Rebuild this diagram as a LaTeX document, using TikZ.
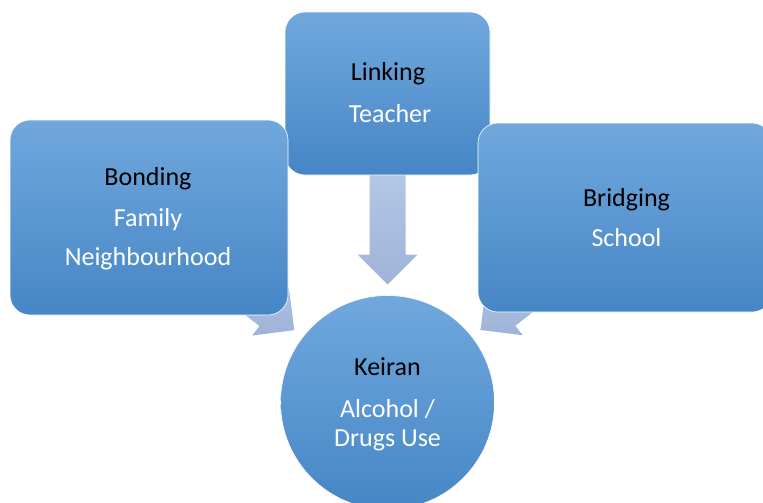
\documentclass[tikz,border=0pt]{standalone}
\usepackage{fontspec}
\setmainfont{Carlito}
\usetikzlibrary{calc,backgrounds}
\definecolor{boxtop}{HTML}{70A8DD}
\definecolor{boxbot}{HTML}{4686C6}
\definecolor{arrtop}{HTML}{C2D6F1}
\definecolor{arrbot}{HTML}{9EB3D7}
\newcommand{\myblockarrow}[2]{%
  \coordinate (tip) at ($(#2)!118pt!(#1)$);
  \coordinate (hb) at ($(tip)!30pt!(#1)$);
  \shade[arrowstyle] (tip) -- ($(hb)!30pt!90:(tip)$) -- ($(hb)!18pt!90:(tip)$)
    -- ($(#1)!18pt!90:(#2)$) -- ($(#1)!18pt!-90:(#2)$)
    -- ($(hb)!18pt!-90:(tip)$) -- ($(hb)!30pt!-90:(tip)$) -- cycle;}
\begin{document}
\begin{tikzpicture}[x=1pt,y=-1pt,
  boxstyle/.style={rectangle, rounded corners=20pt, top color=boxtop, bottom color=boxbot,
    draw=white, line width=0.6pt, inner sep=0pt},
  circstyle/.style={circle, top color=boxtop, bottom color=boxbot, draw=white,
    line width=0.6pt, inner sep=0pt, minimum size=214pt},
  titletext/.style={anchor=base, font=\fontsize{26}{30}\selectfont, text=black, inner sep=0pt},
  bodytext/.style={anchor=base, font=\fontsize{26}{30}\selectfont, text=white, inner sep=0pt},
  arrowstyle/.style={top color=arrtop, bottom color=arrbot, draw=none}]
\useasboundingbox (0,0) rectangle (763,503);
% boxes
\node[boxstyle, minimum width=205pt, minimum height=163pt] (link) at (387.5,93.5) {};
\node[boxstyle, minimum width=278pt, minimum height=195pt] (bond) at (149,217.5) {};
\node[boxstyle, minimum width=294pt, minimum height=189pt] (bridge) at (625,217.5) {};
\node[circstyle] (keiran) at (387.5,402.5) {};
% arrows behind
\begin{scope}[on background layer]
  \myblockarrow{link.center}{keiran.center}
  \myblockarrow{bond.center}{keiran.center}
  \myblockarrow{bridge.center}{keiran.center}
\end{scope}
% texts
\node[titletext] (bondT) at (148,185) {Bonding};
\node[bodytext] (bondA) at (148,226) {Family};
\node[bodytext] (bondB) at (148,265) {Neighbourhood};
\node[titletext] (linkT) at (388,81) {Linking};
\node[bodytext] (linkA) at (390,122) {Teacher};
\node[titletext] (bridgeT) at (626.5,206) {Bridging};
\node[bodytext] (bridgeA) at (626.5,246) {School};
\node[titletext] (keiranT) at (387.5,375) {Keiran};
\node[bodytext] (keiranA) at (387.5,417) {Alcohol /};
\node[bodytext] (keiranB) at (387.5,446) {Drugs Use};
\end{tikzpicture}
\end{document}
